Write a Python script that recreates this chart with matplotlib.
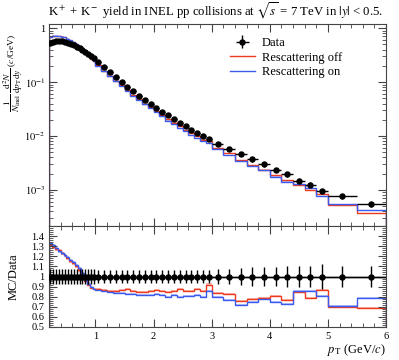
import numpy as np
import matplotlib
matplotlib.use("Agg")
import matplotlib.pyplot as plt
from matplotlib.ticker import FixedLocator, MultipleLocator, LogLocator, FuncFormatter, NullFormatter

plt.rcParams['font.family'] = ['Liberation Serif', 'DejaVu Serif']
plt.rcParams['mathtext.fontset'] = 'stix'

# ---- data ----
bin_edges = [0.20, 0.25, 0.30, 0.35, 0.40, 0.45, 0.50, 0.55, 0.60, 0.65, 0.70,
             0.75, 0.80, 0.85, 0.90, 0.95, 1.00,
             1.1, 1.2, 1.3, 1.4, 1.5, 1.6, 1.7, 1.8, 1.9, 2.0,
             2.1, 2.2, 2.3, 2.4, 2.5, 2.6, 2.7, 2.8, 2.9, 3.0,
             3.2, 3.4, 3.6, 3.8, 4.0, 4.2, 4.4, 4.6, 4.8, 5.0,
             5.5, 6.0]

data_yield = [0.52, 0.55, 0.565, 0.57, 0.565, 0.555, 0.535, 0.51, 0.485, 0.455,
              0.425, 0.395, 0.365, 0.335, 0.305, 0.275,
              0.232, 0.188, 0.152, 0.124, 0.101, 0.0825, 0.0675, 0.0560, 0.0470, 0.0395,
              0.0335, 0.0283, 0.0240, 0.0206, 0.0176, 0.0151, 0.0130, 0.0113, 0.0099, 0.0087,
              0.00720, 0.00580, 0.00470, 0.00370, 0.00300, 0.00235, 0.00195, 0.00148, 0.00125, 0.00095,
              0.00076, 0.00054]

data_relerr = [0.07] * 16 + [0.066] * 20 + \
              [0.07, 0.078, 0.088, 0.09, 0.096, 0.098, 0.10, 0.107, 0.108, 0.12] + \
              [0.104, 0.107]

ratio_off = [1.31, 1.29, 1.27, 1.26, 1.23, 1.21, 1.18, 1.15, 1.13, 1.10, 1.06, 1.01,
             0.96, 0.92, 0.89, 0.88,
             0.88, 0.87, 0.86, 0.86, 0.87, 0.88, 0.86, 0.85, 0.85, 0.86,
             0.87, 0.86, 0.85, 0.86, 0.88, 0.86, 0.86, 0.88, 0.86, 0.92,
             0.84, 0.83, 0.76, 0.78, 0.79, 0.81, 0.77, 0.85, 0.79, 0.87,
             0.70, 0.69]

ratio_on = [1.33, 1.31, 1.28, 1.25, 1.23, 1.21, 1.19, 1.16, 1.14, 1.11, 1.08, 1.03,
            0.97, 0.93, 0.90, 0.88,
            0.87, 0.86, 0.85, 0.84, 0.84, 0.83, 0.83, 0.82, 0.82, 0.82,
            0.83, 0.82, 0.80, 0.82, 0.80, 0.81, 0.81, 0.82, 0.80, 0.86,
            0.80, 0.77, 0.72, 0.75, 0.78, 0.75, 0.73, 0.86, 0.86, 0.81,
            0.71, 0.79]

mc_relerr = 0.012

labels = ["Data", "Rescattering off", "Rescattering on"]
title = r"K$^+$ + K$^-$ yield in INEL pp collisions at $\sqrt{s}$ = 7 TeV in $|y|$ < 0.5."

red = "#EE3B1E"
blue = "#3B5BEE"

# ---- derived ----
edges = np.array(bin_edges)
centers = 0.5 * (edges[:-1] + edges[1:])
halfw = 0.5 * (edges[1:] - edges[:-1])
data = np.array(data_yield)
derr = data * np.array(data_relerr)
r_off = np.array(ratio_off)
r_on = np.array(ratio_on)
mc_off = data * r_off
mc_on = data * r_on

fig = plt.figure(figsize=(3.99, 3.60), dpi=100)
L, R = 49 / 399, 386 / 399
W = R - L
ax = fig.add_axes([L, 1 - 226 / 360, W, (226 - 24) / 360])
axr = fig.add_axes([L, 1 - 327 / 360, W, (327 - 226) / 360], sharex=ax)

# main panel
for vals, col in ((mc_off, red), (mc_on, blue)):
    ax.stairs(vals * (1 + mc_relerr), edges, baseline=vals * (1 - mc_relerr),
              fill=True, color=col, alpha=0.35, lw=0)
ax.stairs(mc_off, edges, color=red, lw=1.0, label=labels[1])
ax.stairs(mc_on, edges, color=blue, lw=1.0, label=labels[2])
ax.errorbar(centers, data, xerr=halfw, yerr=derr, fmt='o', color='black',
            ms=3.6, lw=1.0, capsize=0, label=labels[0], zorder=5)

ax.set_yscale('log')
ax.set_xlim(0.2, 6.0)
ax.set_ylim(2.15e-4, 1.19)

def yfmt(v, pos):
    e = int(round(np.log10(v)))
    return "1" if e == 0 else r"$10^{%d}$" % e

ax.yaxis.set_major_locator(FixedLocator([1e-3, 1e-2, 1e-1, 1]))
ax.yaxis.set_major_formatter(FuncFormatter(yfmt))
ax.yaxis.set_minor_locator(LogLocator(base=10, subs=np.arange(2, 10), numticks=20))
ax.yaxis.set_minor_formatter(NullFormatter())
ax.set_ylabel(r"$\dfrac{1}{N_\mathrm{inel}}\,\dfrac{\mathrm{d}^2N}{\mathrm{d}p_\mathrm{T}\mathrm{d}y}$ ($c$/GeV)",
              loc='top', fontsize=6.8)
ax.yaxis.set_label_coords(-0.07, 0.955)
ax.set_title(title, fontsize=9.2, loc='left', pad=6, x=-0.004)

h, l = ax.get_legend_handles_labels()
order = [l.index(x) for x in labels]
leg = ax.legend([h[i] for i in order], [l[i] for i in order], loc='upper left',
                bbox_to_anchor=((230 - 49) / 337, 1 - 13 / 202), frameon=False, fontsize=9,
                borderpad=0, borderaxespad=0,
                handlelength=2.0, handletextpad=0.55, labelspacing=0.2)

# ratio panel
axr.axhline(1.0, color='black', lw=1.0, zorder=4)
for r, col in ((r_off, red), (r_on, blue)):
    axr.stairs(r * (1 + mc_relerr), edges, baseline=r * (1 - mc_relerr),
               fill=True, color=col, alpha=0.35, lw=0)
axr.stairs(r_off, edges, color=red, lw=1.0)
axr.stairs(r_on, edges, color=blue, lw=1.0)
axr.errorbar(centers, np.ones_like(centers), xerr=halfw, yerr=np.array(data_relerr),
             fmt='o', color='black', ms=3.6, lw=1.0, capsize=0, zorder=5)
axr.set_ylim(0.5, 1.5)
axr.yaxis.set_major_locator(FixedLocator(np.round(np.arange(0.5, 1.45, 0.1), 2)))
axr.yaxis.set_major_formatter(FuncFormatter(lambda v, p: "%g" % v))
axr.yaxis.set_minor_locator(MultipleLocator(0.02))
axr.set_ylabel("MC/Data", fontsize=9)
axr.yaxis.set_label_coords(-0.086, 0.5)
axr.set_xlabel(r"$p_\mathrm{T}$ (GeV/$c$)", fontsize=9, loc='right', labelpad=1)
axr.xaxis.set_major_locator(FixedLocator([1, 2, 3, 4, 5, 6]))
axr.xaxis.set_minor_locator(MultipleLocator(0.2))
plt.setp(ax.get_xticklabels(), visible=False)

for a in (ax, axr):
    a.tick_params(which='both', direction='in', top=True, right=True, labelsize=7.5,
                  color='#444444')
    a.tick_params(which='major', length=6, width=0.8)
    a.tick_params(which='minor', length=3, width=0.6)
    for s in a.spines.values():
        s.set_color('#444444')
        s.set_linewidth(0.8)
ax.tick_params(axis='y', which='major', pad=2.5)

fig.savefig("out.png", dpi=100)
